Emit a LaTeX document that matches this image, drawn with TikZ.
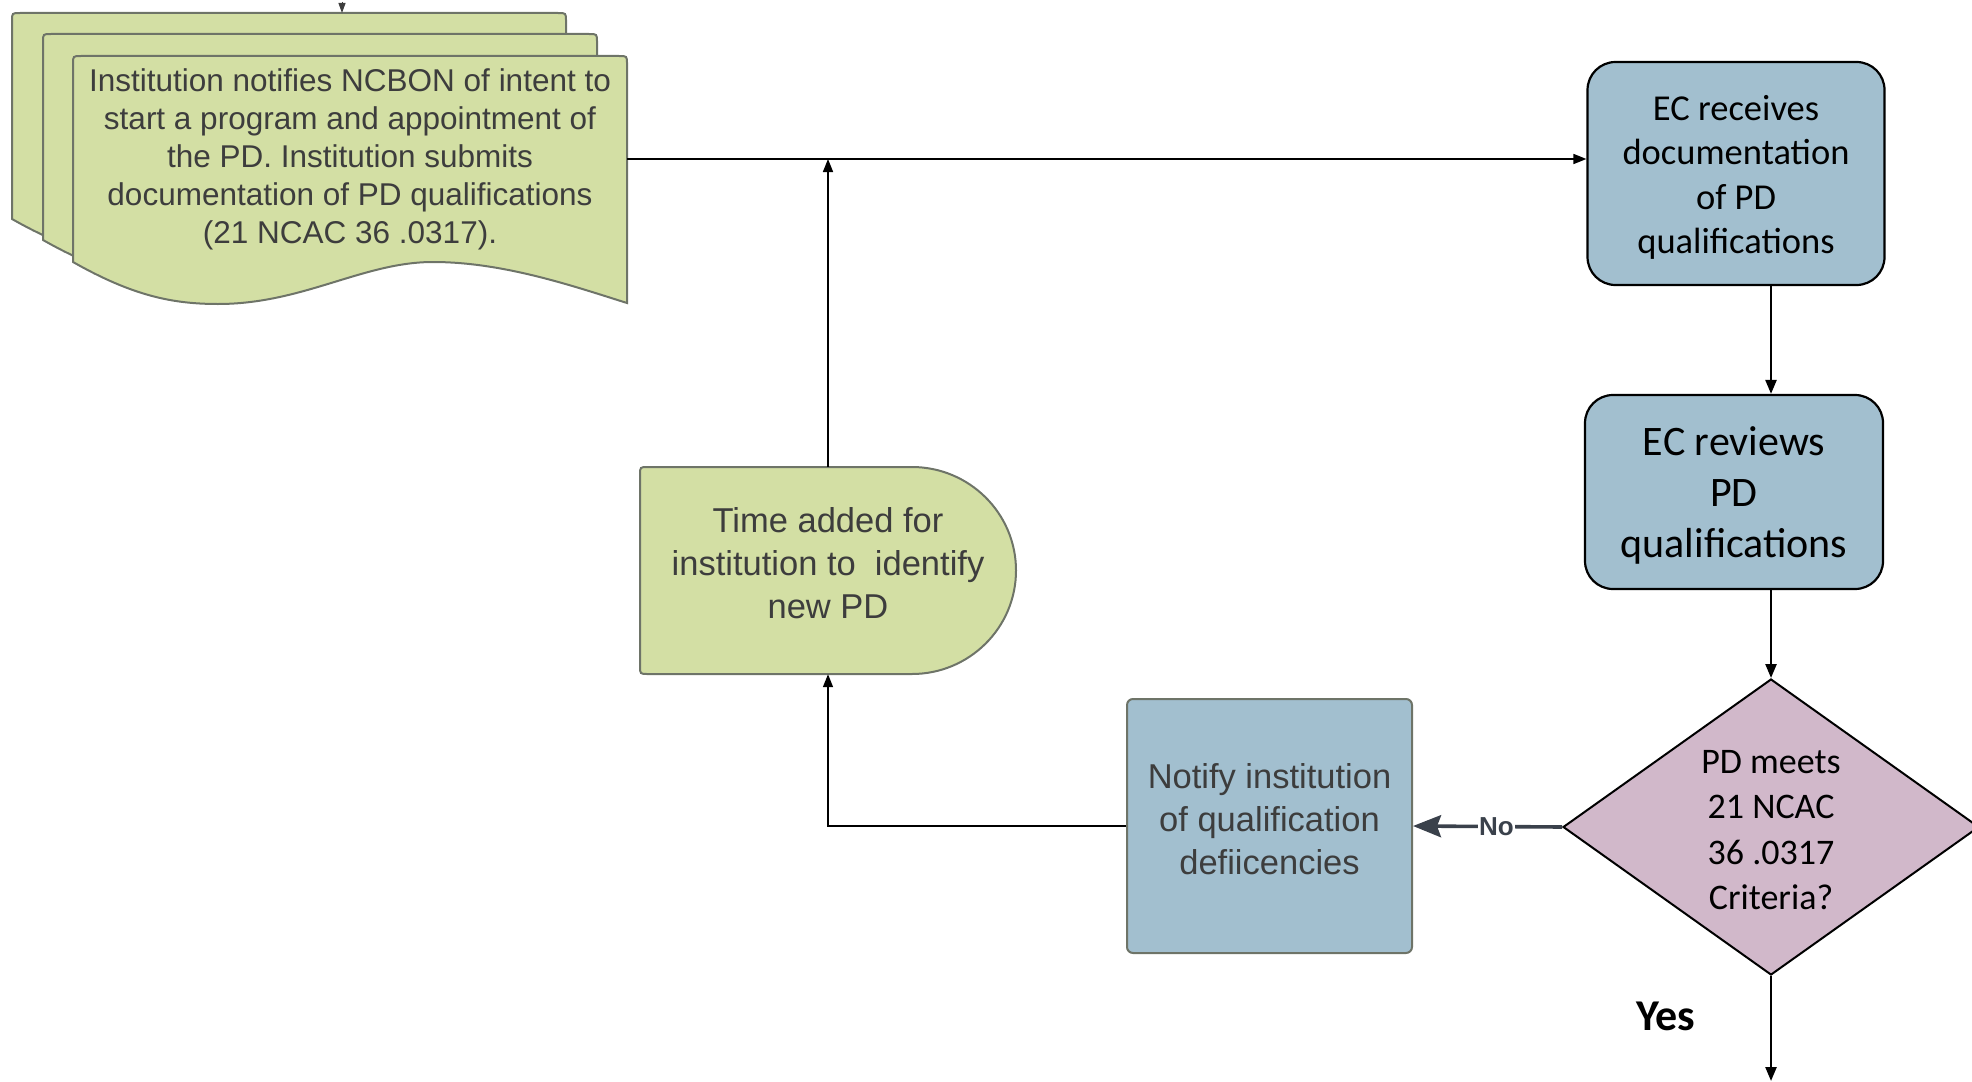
\documentclass[tikz,border=0pt]{standalone}
\usepackage{fontspec}
\setmainfont{Liberation Sans}
\newfontfamily\calibri{Carlito}
\usepackage{xcolor}
\usetikzlibrary{shapes.geometric,arrows.meta,positioning,calc}

\definecolor{docgreen}{RGB}{211,223,164}
\definecolor{edgegray}{RGB}{110,116,104}
\definecolor{ecblue}{RGB}{162,191,207}
\definecolor{critpink}{RGB}{209,184,202}
\definecolor{lucidtext}{RGB}{61,61,61}
\definecolor{noline}{RGB}{58,65,75}

% one sheet of the stacked document, top left corner at (#1,#2)
\newcommand{\docsheet}[2]{%
  \draw[sheet] (#1,#2+8) .. controls (#1,#2) .. (#1+8,#2) -- (#1+546,#2)
    .. controls (#1+554,#2) .. (#1+554,#2+8) -- (#1+554,#2+247)
    .. controls (#1+500,#2+230) and (#1+430,#2+206) .. (#1+360,#2+206)
    .. controls (#1+290,#2+206) and (#1+230,#2+248) .. (#1+145,#2+248)
    .. controls (#1+100,#2+248) and (#1+60,#2+240) .. (#1,#2+206) -- cycle;}

\begin{document}
\begin{tikzpicture}[x=1pt,y=-1pt,
    sheet/.style={draw=edgegray, line width=2pt, fill=docgreen},
    lucid/.style={align=center, text=lucidtext, font=\fontsize{34.5}{43}\selectfont},
    ecbox/.style={draw, line width=2.2pt, fill=ecblue, rounded corners=28pt, align=center},
    decision/.style={diamond, draw, line width=2pt, fill=critpink, aspect=1.4, inner sep=0pt,
        minimum width=416pt, minimum height=296pt, align=center,
        font=\calibri\fontsize{36}{45.5}\selectfont},
    conn/.style={line width=2.4pt, -{Triangle[length=14pt,width=11pt]}},
    thinconn/.style={line width=1.6pt, -{Triangle[length=13pt,width=10pt]}},
    noconn/.style={line width=3.6pt, draw=noline, -{Stealth[length=28pt,width=22pt,inset=4pt]}}]
  \useasboundingbox (0,0) rectangle (1972,1081);

  % stacked document
  \docsheet{12}{13}
  \docsheet{43}{34}
  \docsheet{73}{56}
  \node[lucid, minimum width=554pt, minimum height=206pt, font=\fontsize{31.5}{38}\selectfont] (doc) at (350,159)
    {Institution notifies NCBON of intent to\\start a program and appointment of\\the PD. Institution submits\\documentation of PD qualifications\\(21 NCAC 36 .0317).};
  \coordinate (topin) at (342,2);
  \draw[line width=1pt, draw=lucidtext, -{Triangle[length=10pt,width=7pt]}] (topin) -- ++(0,11);

  % delay shape
  \draw[sheet] (648,467) -- (912,467) .. controls (969,467) and (1016,513) .. (1016,570.5)
    .. controls (1016,628) and (969,674) .. (912,674) -- (648,674)
    .. controls (640,674) .. (640,666) -- (640,475) .. controls (640,467) .. (648,467) -- cycle;
  \node[minimum width=376pt, minimum height=207pt] (delay) at (828,570.5) {};
  \node[lucid] (delaytext) at ([yshift=7pt]delay.center) {Time added for\\institution to\ \ identify\\new PD};

  % EC steps
  \node[ecbox, minimum width=297pt, minimum height=223pt] (ecrec) at (1736,173.5) {};
  \node[align=center, font=\calibri\fontsize{36.5}{44.5}\selectfont] (ecrectext) at ([yshift=-4pt]ecrec.center)
    {EC receives\\documentation\\of PD\\qualifications};
  \node[ecbox, minimum width=298pt, minimum height=194pt] (ecrev) at (1734,492) {};
  \node[align=center, font=\calibri\fontsize{42}{51}\selectfont] (ecrevtext) at ([yshift=-3pt]ecrev.center)
    {EC reviews\\PD\\qualifications};
  \node[decision] (crit) at (1771,827) {};
  \node[align=center, font=\calibri\fontsize{36}{45.5}\selectfont] (crittext) at ([yshift=-3pt]crit.center)
    {PD meets\\21 NCAC\\36 .0317\\Criteria?};
  \node[draw=edgegray, line width=2pt, fill=ecblue, rounded corners=6pt,
    minimum width=285pt, minimum height=254pt] (notify) at (1269.5,826) {};
  \node[lucid] (notifytext) at ([yshift=7pt]notify.center) {Notify institution\\of qualification\\defiicencies};
  \node[font=\calibri\bfseries\fontsize{44}{52}\selectfont] (yes) at (1666,1016) {Yes};
  \coordinate (yesend) at (1771,1081);

  % connectors
  \draw[thinconn] (doc.east) -- (doc.east -| ecrec.west);
  \draw[conn] (ecrec.south -| crit.north) -- (ecrev.north -| crit.north);
  \draw[conn] (ecrev.south -| crit.north) -- (crit.north);
  \draw[conn] (crit.south) -- (yesend);
  \draw[noconn] (crit.west) -- (notify.east)
    node[pos=0.44, fill=white, inner sep=1pt, text=noline, font=\bfseries\fontsize{26}{30}\selectfont] (nolabel) {No};
  \draw[thinconn] (notify.west) -| (delay.south);
  \draw[thinconn] (delay.north) -- (delay.north |- doc.east);
\end{tikzpicture}
\end{document}
